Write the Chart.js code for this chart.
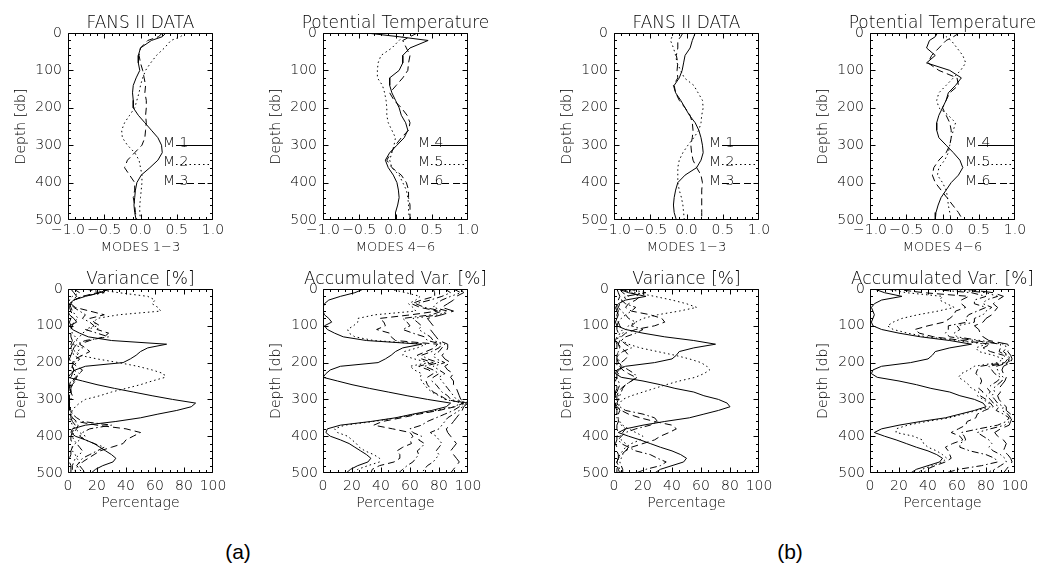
<!DOCTYPE html>
<html><head><meta charset="utf-8">
<script src="https://cdn.jsdelivr.net/npm/chart.js@4.4.1/dist/chart.umd.min.js"></script>
<style>
html,body{margin:0;padding:0;background:#fff;width:1037px;height:568px;overflow:hidden;position:relative;}
canvas{position:absolute;}
.lab{position:absolute;font-family:"Liberation Sans",Arial,sans-serif;font-size:21px;color:#000;transform:translate(-50%,-50%);white-space:nowrap;}
</style></head><body>
<div class="lab" style="left:238px;top:552px">(a)</div>
<div class="lab" style="left:790px;top:552px">(b)</div>
<script>
// ---------------- DATA ----------------
const depthTop = [0,10,20,40,60,80,100,120,140,160,180,200,220,240,260,280,300,320,340,360,380,400,420,440,460,480,500];
const depthBottom = [0,10,20,30,40,50,60,70,80,90,100,110,120,130,140,150,160,170,180,190,200,210,220,230,240,250,260,270,280,290,300,310,320,330,340,350,360,370,380,390,400,410,420,430,440,450,460,470,480,490,500];

const xTicksModes = [-1, -0.5, 0, 0.5, 1];
const xTicksPct = [0, 20, 40, 60, 80, 100];
const depthTicks = [0, 100, 200, 300, 400, 500];

// (a) FANS II DATA, modes 1-3
const modeA1 = [0.35,0.30,0.15,0.0,-0.03,-0.03,-0.01,-0.06,-0.10,-0.11,-0.10,-0.10,-0.03,0.06,0.15,0.24,0.29,0.30,0.24,0.13,0.01,-0.05,-0.07,-0.08,-0.09,-0.08,-0.06];
const modeA2 = [0.62,0.55,0.42,0.33,0.22,0.14,0.07,0.03,0.0,-0.02,-0.05,-0.08,-0.15,-0.22,-0.26,-0.25,-0.18,-0.08,-0.02,0.0,0.02,0.02,0.01,0.0,-0.01,-0.01,0.0];
const modeA3 = [0.30,0.25,0.10,0.0,-0.02,0.0,0.03,0.05,0.07,0.06,0.08,0.08,0.07,0.08,0.07,0.06,0.02,-0.08,-0.18,-0.22,-0.15,-0.08,-0.08,-0.10,-0.08,-0.07,-0.05];
// (a) Potential Temperature, modes 4-6
const modeA4 = [-0.40,0.05,0.45,0.20,0.10,0.10,0.05,-0.08,-0.08,-0.05,0.0,0.05,0.08,0.14,0.17,0.12,0.02,-0.08,-0.14,-0.10,-0.03,0.02,0.04,0.05,0.03,0.0,0.0];
const modeA5 = [0.15,0.10,0.05,-0.05,-0.20,-0.24,-0.25,-0.25,-0.18,-0.15,-0.13,-0.12,-0.12,-0.10,-0.05,0.0,-0.02,-0.05,-0.08,-0.05,0.05,0.10,0.15,0.17,0.18,0.18,0.20];
const modeA6 = [0.30,0.20,0.10,0.15,0.20,0.18,0.17,0.10,0.01,-0.08,-0.02,0.08,0.16,0.20,0.18,0.08,0.0,-0.06,-0.12,-0.05,0.08,0.15,0.18,0.18,0.20,0.20,0.20];
// (b) FANS II DATA, modes 1-3
const modeB1 = [0.12,0.10,0.08,0.05,-0.02,-0.04,-0.06,-0.10,-0.17,-0.15,-0.08,-0.02,0.04,0.12,0.17,0.20,0.22,0.23,0.20,0.14,-0.02,-0.12,-0.15,-0.17,-0.18,-0.17,-0.14];
const modeB2 = [-0.18,-0.20,-0.22,-0.18,-0.15,-0.13,-0.08,-0.03,0.10,0.16,0.22,0.23,0.21,0.20,0.17,0.10,0.02,-0.05,-0.10,-0.12,-0.12,-0.12,-0.10,-0.07,-0.05,-0.04,-0.03];
const modeB3 = [-0.05,-0.08,-0.12,-0.12,-0.14,-0.12,-0.13,-0.12,-0.18,-0.15,-0.10,-0.02,0.05,0.08,0.09,0.08,0.06,0.07,0.09,0.14,0.20,0.22,0.21,0.21,0.21,0.21,0.21];
// (b) Potential Temperature, modes 4-6
const modeB4 = [-0.07,-0.10,-0.18,-0.22,-0.10,-0.22,0.10,0.26,0.18,0.08,0.05,0.0,-0.05,-0.08,-0.08,-0.05,0.05,0.15,0.24,0.28,0.22,0.12,0.05,-0.02,-0.06,-0.09,-0.10];
const modeB5 = [0.10,0.05,0.12,0.20,0.28,0.32,0.25,0.15,0.05,-0.05,-0.08,-0.05,0.08,0.18,0.15,0.12,0.10,0.08,0.03,-0.05,-0.07,0.0,0.05,0.07,0.08,0.10,0.12];
const modeB6 = [0.23,0.15,0.05,-0.05,-0.15,-0.20,-0.05,0.20,0.22,0.10,0.05,0.0,0.05,0.10,0.12,0.12,0.10,0.05,-0.05,-0.12,-0.14,-0.10,-0.02,0.06,0.14,0.22,0.28];

// (a) Variance [%], modes 1-6
const varA1 = [28,22,12,4,1,0,0,1,4,6, 1,3,8,14,30,68,55,50,47,43, 38,12,5,2,0,10,20,32,45,58, 72,88,85,75,62,50,33,12,3,2, 5,12,18,22,26,30,33,31,24,19, 16];
const varA2 = [18,35,55,60,58,62,64,35,20,18, 20,14,10,8,5,3,10,6,8,20, 35,48,58,66,67,58,50,40,30,22, 12,8,5,3,2,1,2,3,5,8, 12,8,5,3,3,5,6,8,7,5, 5];
const varA3 = [30,20,10,4,2,5,15,25,15,18, 22,20,28,25,15,8,12,15,10,5, 3,6,10,8,5,3,2,2,1,1, 1,1,1,2,2,3,6,20,40,50, 45,40,38,30,22,18,14,10,8,10, 12];
const varA4 = [12,25,10,4,2,4,8,12,10,15, 18,12,20,28,12,6,4,3,4,8, 6,3,4,8,6,4,3,2,2,3, 2,1,1,2,3,6,10,30,15,10, 8,12,18,25,20,15,10,8,6,8, 10];
const varA5 = [4,8,3,1,1,2,3,5,7,4, 3,2,3,5,6,3,2,5,7,6, 4,3,2,4,6,5,3,2,2,1, 1,1,1,1,2,3,5,7,6,4, 3,4,6,8,10,8,5,4,3,3, 2];
const varA6 = [2,4,6,3,2,1,2,3,2,1, 2,3,2,2,3,2,2,3,2,1, 2,3,4,3,2,2,1,1,2,2, 1,1,1,1,2,2,3,5,4,3, 2,2,3,3,2,2,1,1,2,2, 2];
// (a) Accumulated Var. [%] (first curve is mode 1 itself)
const accA2 = [46,57,67,64,59,62,64,36,24,24, 21,17,18,22,35,71,65,56,55,63, 73,60,63,68,67,68,70,72,75,80, 84,96,90,78,64,51,35,15,8,10, 17,20,23,25,29,35,39,39,31,24, 21];
const accA3 = [76,77,77,68,61,67,79,61,39,42, 43,37,46,47,50,79,77,71,65,68, 76,66,73,76,72,71,72,74,76,81, 85,97,91,80,66,54,41,35,48,60, 62,60,61,55,51,53,53,49,39,34, 33];
const accA4 = [84,88,82,74,64,70,82,75,55,58, 60,55,62,70,72,82,80,75,68,72, 80,70,76,80,76,75,78,80,82,86, 88,98,94,90,84,78,72,68,60,62, 68,66,70,68,65,66,64,62,58,55, 52];
const accA5 = [90,95,88,82,78,76,86,80,62,65, 68,66,70,74,76,84,82,80,76,78, 84,76,80,84,80,82,84,86,88,90, 92,99,96,94,90,86,84,82,80,74, 78,80,82,80,78,80,78,76,72,70, 68];
const accA6 = [95,97,92,90,86,82,90,82,72,74, 76,74,76,78,80,86,86,85,82,84, 88,84,86,90,88,90,90,92,93,94, 95,100,97,96,94,92,90,88,85,86, 88,90,92,90,88,90,92,94,92,90, 88];

// (b) Variance [%], modes 1-6
const varB1 = [3,10,22,8,3,1,2,3,2,1, 2,8,20,35,55,70,55,45,43,40, 28,8,2,1,5,20,32,42,55,62, 72,78,80,72,62,52,35,20,8,3, 10,18,25,32,40,46,50,48,40,32, 28];
const varB2 = [8,15,28,40,50,57,45,30,20,15, 10,8,6,4,5,10,18,30,42,52, 60,64,66,62,56,45,36,28,20,12, 6,4,3,2,2,3,4,6,10,15, 20,18,12,8,6,4,3,2,3,4, 5];
const varB3 = [5,12,18,15,10,8,12,25,33,35, 28,15,8,5,4,3,5,8,10,8, 5,4,6,10,15,12,8,5,3,2, 2,1,2,5,10,18,28,40,43,38, 32,28,20,12,8,5,3,2,2,3, 4];
const varB4 = [10,22,8,5,8,15,12,8,10,15, 12,20,15,8,5,8,12,6,3,2, 3,6,10,14,16,12,8,6,5,4, 3,2,4,8,20,28,30,25,15,8, 5,3,5,10,15,25,30,36,32,22, 15];
const varB5 = [4,6,10,6,4,3,5,8,5,3, 4,6,4,3,2,3,4,3,2,3, 4,5,4,3,2,3,4,3,2,3, 2,2,3,4,3,2,3,5,8,6, 4,5,8,10,8,6,5,4,5,6, 6];
const varB6 = [2,3,4,3,2,2,3,2,2,3, 2,2,3,2,1,2,2,3,2,2, 2,2,3,2,2,1,2,2,1,1, 1,1,1,2,2,3,3,2,2,3, 2,2,1,2,2,3,3,2,2,2, 2];
// (b) Accumulated Var. [%] (first curve is mode 1 itself)
const accB2 = [11,25,50,48,53,58,47,33,22,16, 12,16,26,39,60,80,73,75,85,92, 88,72,68,63,61,65,68,70,75,74, 78,82,83,74,64,55,39,26,18,18, 30,36,37,40,46,50,53,50,43,36, 33];
const accB3 = [16,37,68,63,63,66,59,58,55,51, 40,31,34,44,64,83,78,83,92,95, 93,76,74,73,76,77,76,75,78,76, 80,83,85,79,74,73,67,66,61,56, 62,64,57,52,54,55,56,52,45,39, 37];
const accB4 = [40,70,80,72,72,80,74,68,66,67, 54,54,52,55,72,90,90,89,94,96, 95,82,84,86,90,88,84,81,83,80, 83,85,89,87,92,96,94,88,75,63, 65,66,62,62,69,80,86,88,77,61, 52];
const accB5 = [55,80,88,80,78,84,80,78,72,72, 60,62,58,60,76,93,94,92,95,97, 96,87,88,89,92,91,88,85,86,84, 86,88,92,91,95,97,96,93,83,74, 78,82,84,82,85,90,93,94,90,86, 80];
const accB6 = [65,85,92,88,85,88,86,84,80,78, 72,75,76,78,82,95,96,95,97,98, 97,92,91,92,94,93,91,89,90,88, 89,91,94,94,97,98,97,96,90,86, 88,92,94,93,92,95,97,98,96,94, 92];

// ---------------- STYLE / LAYOUT ----------------
const FONT = '"DejaVu Sans", sans-serif';
const FW = '200';
const DASH = { solid: [], dot: [1.5, 3], dash: [7, 4], dashdot: [7, 3, 1.5, 3], dashdotdot: [7, 3, 1.5, 3, 1.5, 3, 1.5, 3], long: [12, 5] };
const topStyles = ['solid', 'dot', 'dash'];
const bottomStyles = ['solid', 'dot', 'dash', 'dashdot', 'dashdotdot', 'long'];
const COLS = [68, 323, 614, 870];
const BOX_W = 145, ML = 68, MR = 34;
const ROWS = {
  top:    { y: 33,  h: 187, mt: 33, mb: 40, xPad: 2, yPad: 6, xTitleSize: 13, xTitlePad: 4.2 },
  bottom: { y: 289, h: 184, mt: 30, mb: 47, xPad: 5, yPad: 5, xTitleSize: 14, xTitlePad: 8.6 }
};

const panels = [
  { col: 0, row: 'top', title: 'FANS II DATA', xTitle: 'MODES 1\u22123', depth: depthTop, series: [modeA1, modeA2, modeA3], styles: topStyles, legend: ['M 1', 'M 2', 'M 3'] },
  { col: 1, row: 'top', title: 'Potential Temperature', xTitle: 'MODES 4\u22126', depth: depthTop, series: [modeA4, modeA5, modeA6], styles: topStyles, legend: ['M 4', 'M 5', 'M 6'] },
  { col: 2, row: 'top', title: 'FANS II DATA', xTitle: 'MODES 1\u22123', depth: depthTop, series: [modeB1, modeB2, modeB3], styles: topStyles, legend: ['M 1', 'M 2', 'M 3'] },
  { col: 3, row: 'top', title: 'Potential Temperature', xTitle: 'MODES 4\u22126', depth: depthTop, series: [modeB4, modeB5, modeB6], styles: topStyles, legend: ['M 4', 'M 5', 'M 6'] },
  { col: 0, row: 'bottom', title: 'Variance [%]', xTitle: 'Percentage', depth: depthBottom, series: [varA1, varA2, varA3, varA4, varA5, varA6], styles: bottomStyles },
  { col: 1, row: 'bottom', title: 'Accumulated Var. [%]', xTitle: 'Percentage', depth: depthBottom, series: [varA1, accA2, accA3, accA4, accA5, accA6], styles: bottomStyles },
  { col: 2, row: 'bottom', title: 'Variance [%]', xTitle: 'Percentage', depth: depthBottom, series: [varB1, varB2, varB3, varB4, varB5, varB6], styles: bottomStyles },
  { col: 3, row: 'bottom', title: 'Accumulated Var. [%]', xTitle: 'Percentage', depth: depthBottom, series: [varB1, accB2, accB3, accB4, accB5, accB6], styles: bottomStyles }
];

const framePlugin = {
  id: 'frame',
  afterDatasetsDraw(chart, args, o) {
    const { ctx, chartArea: a, scales: { x, y } } = chart;
    ctx.save();
    ctx.strokeStyle = '#000'; ctx.lineWidth = 1; ctx.setLineDash([]);
    const L = a.left + 0.5, R = a.right - 0.5, T = a.top + 0.5, B = a.bottom - 0.5;
    const clampX = p => Math.min(R, Math.max(L, p));
    const clampY = p => Math.min(B, Math.max(T, p));
    ctx.beginPath();
    ctx.rect(L, T, R - L, B - T);
    const nx = Math.round((x.max - x.min) / o.xMinor);
    for (let i = 0; i <= nx; i++) {
      const px = clampX(Math.round(x.getPixelForValue(x.min + i * o.xMinor)) + 0.5);
      const len = (i % o.xPer === 0) ? 5 : 2.5;
      ctx.moveTo(px, B); ctx.lineTo(px, B - len);
      ctx.moveTo(px, T); ctx.lineTo(px, T + len);
    }
    const ny = Math.round((y.max - y.min) / o.yMinor);
    for (let i = 0; i <= ny; i++) {
      const py = clampY(Math.round(y.getPixelForValue(y.min + i * o.yMinor)) + 0.5);
      const len = (i % o.yPer === 0) ? 5 : 2.5;
      ctx.moveTo(L, py); ctx.lineTo(L + len, py);
      ctx.moveTo(R, py); ctx.lineTo(R - len, py);
    }
    ctx.stroke();
    ctx.fillStyle = '#000';
    ctx.font = FW + ' 17px ' + FONT;
    ctx.textAlign = 'center'; ctx.textBaseline = 'alphabetic';
    ctx.fillText(o.title, (a.left + a.right) / 2, a.top - 5);
    if (o.legend) {
      ctx.font = FW + ' 14px ' + FONT;
      ctx.textAlign = 'left';
      o.legend.forEach((lab, i) => {
        const py = Math.round(y.getPixelForValue(o.legendDepths[i])) + 0.5;
        ctx.fillText(lab, x.getPixelForValue(o.legendTextX), py + 1);
        ctx.setLineDash(DASH[o.styles[i]]);
        ctx.beginPath();
        ctx.moveTo(x.getPixelForValue(o.legendLine[0]), py);
        ctx.lineTo(x.getPixelForValue(o.legendLine[1]), py);
        ctx.stroke();
      });
    }
    ctx.restore();
  }
};

function fmtMode(v) { return v.toFixed(1).replace('-', '\u2212'); }

panels.forEach(p => {
  const row = ROWS[p.row];
  const isTop = p.row === 'top';
  const left = COLS[p.col] - ML, top = row.y - row.mt;
  const W = ML + BOX_W + MR, H = row.mt + row.h + row.mb;
  const cv = document.createElement('canvas');
  cv.width = W; cv.height = H;
  cv.style.left = left + 'px'; cv.style.top = top + 'px';
  cv.style.width = W + 'px'; cv.style.height = H + 'px';
  document.body.appendChild(cv);
  const xt = isTop ? xTicksModes : xTicksPct;
  const datasets = p.series.map((vals, i) => ({
    data: p.depth.map((d, k) => ({ x: vals[k], y: d })),
    borderColor: '#000', borderWidth: 1, borderDash: DASH[p.styles[i]],
    pointRadius: 0, pointHoverRadius: 0, showLine: true, fill: false, tension: 0
  }));
  new Chart(cv, {
    type: 'scatter',
    data: { datasets },
    options: {
      responsive: false, animation: false, devicePixelRatio: 1,
      layout: { padding: { left: 0, right: MR, top: row.mt, bottom: 0 } },
      events: [],
      plugins: {
        legend: { display: false }, tooltip: { enabled: false },
        frame: {
          title: p.title, legend: p.legend, styles: p.styles,
          legendDepths: [300, 350, 400], legendTextX: 0.31, legendLine: [0.49, 0.98],
          xMinor: isTop ? 0.1 : 5, xPer: isTop ? 5 : 4, yMinor: 20, yPer: 5
        }
      },
      scales: {
        x: {
          type: 'linear', position: 'bottom',
          min: xt[0], max: xt[xt.length - 1],
          grid: { display: false, drawTicks: false, tickLength: 0 }, border: { display: false },
          afterBuildTicks: s => { s.ticks = xt.map(v => ({ value: v })); },
          ticks: {
            autoSkip: false, maxRotation: 0, padding: row.xPad, color: '#000',
            font: { family: FONT, size: 14, weight: FW },
            callback: v => isTop ? fmtMode(v) : String(v)
          },
          title: { display: true, text: p.xTitle, color: '#000', font: { family: FONT, size: row.xTitleSize, weight: FW }, padding: { top: 0, bottom: row.xTitlePad } },
          afterFit: s => { s.height = row.mb; s.paddingLeft = 0; s.paddingRight = 0; }
        },
        y: {
          type: 'linear', position: 'left', reverse: true,
          min: depthTicks[0], max: depthTicks[depthTicks.length - 1],
          grid: { display: false, drawTicks: false, tickLength: 0 }, border: { display: false },
          afterBuildTicks: s => { s.ticks = depthTicks.map(v => ({ value: v })); },
          ticks: { autoSkip: false, padding: row.yPad, color: '#000', font: { family: FONT, size: 14, weight: FW }, callback: v => String(v) },
          title: { display: true, text: 'Depth [db]', color: '#000', font: { family: FONT, size: 14, weight: FW }, padding: { top: 12.6, bottom: 0 } },
          afterFit: s => { s.width = ML; s.paddingTop = 0; s.paddingBottom = 0; }
        }
      }
    },
    plugins: [framePlugin]
  });
});
</script>
</body></html>
